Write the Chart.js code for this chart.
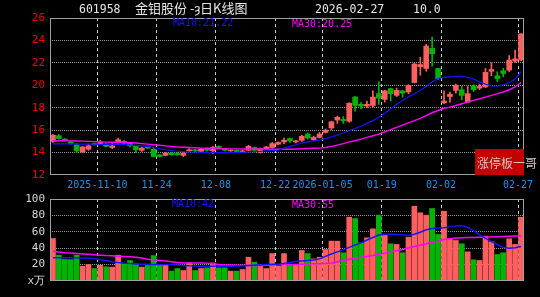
<!DOCTYPE html>
<html>
<head>
<meta charset="utf-8">
<script src="https://cdn.jsdelivr.net/npm/chart.js@4"></script>
<style>
  body { margin: 0; background: #000; width: 540px; height: 297px; overflow: hidden; position: relative; }
  canvas { position: absolute; left: 0; }
  #kChart { top: 0; }
  #volChart { top: 192px; }
  .t { position: absolute; white-space: nowrap; font-family: "DejaVu Sans Mono", monospace; line-height: 12px; }
  .head { color: #e6e6e6; font-size: 11.5px; top: 3px; }
  .cn { font-family: "Noto Sans CJK SC", sans-serif; font-size: 13px; }
  .leg { font-size: 10px; }
  #stamp { position: absolute; left: 475px; top: 149px; width: 49px; height: 26px; background: #c40000; }
  #stampText { position: absolute; left: 477px; top: 156px; font-family: "Noto Sans CJK SC", sans-serif; font-size: 12px; line-height: 14px; color: #dcc4c4; white-space: nowrap; }
</style>
</head>
<body>
<canvas id="kChart" width="540" height="192"></canvas>
<canvas id="volChart" width="540" height="105"></canvas>

<div class="t head" style="left:79px">601958</div>
<div class="t head cn" style="left:135px;top:2px">金钼股份 -ȝ日K线图</div>
<div class="t head" style="left:315px">2026-02-27</div>
<div class="t head" style="left:413px">10.0</div>

<div class="t leg" style="left:173px;top:17px;color:#1414ff">MA10:21.22</div>
<div class="t leg" style="left:292px;top:18px;color:#ff00ff">MA30:20.25</div>
<div class="t leg" style="left:172px;top:198px;color:#1414ff">MA10:42</div>
<div class="t leg" style="left:292px;top:199px;color:#ff00ff">MA30:55</div>

<div id="stamp"></div>
<div id="stampText">涨停板一哥</div>

<script>
// 交易日
const dates = [
  '2025-10-29','2025-10-30','2025-10-31',
  '2025-11-03','2025-11-04','2025-11-05','2025-11-06','2025-11-07',
  '2025-11-10','2025-11-11','2025-11-12','2025-11-13','2025-11-14',
  '2025-11-17','2025-11-18','2025-11-19','2025-11-20','2025-11-21',
  '2025-11-24','2025-11-25','2025-11-26','2025-11-27','2025-11-28',
  '2025-12-01','2025-12-02','2025-12-03','2025-12-04','2025-12-05',
  '2025-12-08','2025-12-09','2025-12-10','2025-12-11','2025-12-12',
  '2025-12-15','2025-12-16','2025-12-17','2025-12-18','2025-12-19',
  '2025-12-22','2025-12-23','2025-12-24','2025-12-25','2025-12-26',
  '2025-12-29','2025-12-30','2025-12-31',
  '2026-01-05','2026-01-06','2026-01-07','2026-01-08','2026-01-09',
  '2026-01-12','2026-01-13','2026-01-14','2026-01-15','2026-01-16',
  '2026-01-19','2026-01-20','2026-01-21','2026-01-22','2026-01-23',
  '2026-01-26','2026-01-27','2026-01-28','2026-01-29','2026-01-30',
  '2026-02-02','2026-02-03','2026-02-04','2026-02-05','2026-02-06',
  '2026-02-09','2026-02-10','2026-02-11','2026-02-12','2026-02-13',
  '2026-02-24','2026-02-25','2026-02-26','2026-02-27'
];

// 横轴刻度
const tickDates = ['2025-11-10','2025-11-24','2025-12-08','2025-12-22','2026-01-05','2026-01-19','2026-02-02','2026-02-27'];
const tickLabels = ['2025-11-10','11-24','12-08','12-22','2026-01-05','01-19','02-02','02-27'];

// K线
const opens = [
  15.0,15.5,15.2,14.95,14.7,14.05,14.3,14.8,14.8,14.75,
  14.45,14.9,15.0,14.85,14.6,14.2,14.55,14.3,13.8,13.75,
  13.95,13.95,13.75,14.15,14.25,14.1,14.35,14.15,14.55,14.3,
  14.15,14.2,14.05,14.2,14.45,14.0,14.35,14.45,14.75,14.95,
  15.25,14.95,15.1,15.65,15.15,15.35,15.8,16.2,16.9,16.95,
  16.8,18.95,18.3,18.15,18.2,19.25,18.75,19.7,19.1,19.5,
  19.4,20.25,21.65,21.5,23.3,21.5,18.45,19.0,19.55,19.6,
  18.5,19.95,19.75,19.85,21.25,20.85,21.3,21.35,22.15,22.25
];
const highs = [
  15.6,15.6,15.25,15.0,14.8,14.55,14.75,14.85,15.1,14.85,
  14.8,15.3,15.1,14.9,14.65,14.5,14.6,14.35,13.85,14.0,
  14.0,14.0,14.0,14.35,14.3,14.35,14.4,14.55,14.6,14.35,
  14.25,14.25,14.2,14.65,14.5,14.4,14.55,14.9,14.95,15.3,
  15.3,15.1,15.55,15.75,15.45,15.8,16.1,16.8,17.25,17.2,
  18.45,19.0,18.45,18.6,19.5,20.3,19.55,19.75,19.75,19.55,
  20.05,21.95,22.5,23.65,24.3,21.5,19.5,19.4,20.1,19.9,
  19.9,20.05,20.1,21.5,22.0,21.2,21.5,22.65,23.15,24.59
];
const lows = [
  14.9,15.2,15.05,14.75,14.0,14.0,14.2,14.65,14.75,14.5,
  14.35,14.85,14.8,14.5,14.0,14.1,14.35,13.6,13.6,13.7,
  13.75,13.75,13.65,14.1,14.05,14.0,14.15,13.9,14.35,14.15,
  14.1,14.05,14.0,14.15,14.0,13.95,14.3,14.4,14.7,14.8,
  14.9,14.85,15.0,15.2,15.05,15.3,15.75,16.05,16.6,16.6,
  16.7,17.7,17.9,18.0,18.05,18.3,18.5,18.6,19.0,18.95,
  19.25,20.2,20.9,21.25,21.7,20.5,18.35,18.5,19.3,18.7,
  18.45,19.45,19.6,19.8,20.85,20.3,20.75,21.2,22.05,22.2
];
const closes = [
  15.55,15.25,15.1,14.8,14.15,14.5,14.6,14.7,14.9,14.55,
  14.6,15.15,14.85,14.6,14.25,14.4,14.4,13.65,13.65,13.95,
  13.8,13.8,13.95,14.25,14.15,14.3,14.2,14.45,14.45,14.2,
  14.22,14.1,14.15,14.55,14.2,14.35,14.5,14.8,14.9,15.1,
  15.05,15.05,15.45,15.3,15.35,15.65,16.0,16.75,17.15,16.85,
  18.4,18.2,18.15,18.3,18.95,18.85,19.5,19.25,19.55,19.3,
  20.0,21.9,21.85,23.5,22.8,20.6,18.6,19.2,20.0,19.1,
  19.25,19.6,19.9,21.15,21.4,20.6,21.05,22.25,22.35,24.59
];
const ma10 = [
  14.78,14.78,14.77,14.77,14.76,14.75,14.75,14.74,14.73,14.73,
  14.72,14.72,14.7,14.68,14.65,14.6,14.55,14.45,14.35,14.25,
  14.18,14.12,14.08,14.05,14.03,14.02,14.02,14.0,14.0,14.0,
  14.0,14.0,14.02,14.05,14.08,14.1,14.15,14.2,14.2,14.4,
  14.55,14.7,14.85,14.95,15.05,15.12,15.25,15.4,15.55,15.75,
  15.95,16.15,16.35,16.6,16.85,17.15,17.5,17.9,18.3,18.65,
  18.95,19.25,19.55,19.9,20.3,20.6,20.7,20.75,20.8,20.8,
  20.72,20.55,20.3,20.1,19.95,19.92,20.05,20.25,20.55,21.22
];
const ma30 = [
  15.05,15.05,15.05,15.04,15.03,15.02,15.0,14.98,14.95,14.93,
  14.92,14.92,14.9,14.88,14.85,14.8,14.75,14.7,14.65,14.6,
  14.55,14.5,14.47,14.45,14.43,14.4,14.38,14.36,14.35,14.34,
  14.33,14.33,14.32,14.32,14.32,14.32,14.31,14.3,14.3,14.29,
  14.3,14.32,14.34,14.36,14.38,14.4,14.45,14.55,14.67,14.8,
  14.95,15.05,15.2,15.35,15.5,15.65,15.85,16.05,16.25,16.45,
  16.65,16.85,17.05,17.3,17.55,17.75,17.95,18.05,18.2,18.35,
  18.5,18.65,18.8,18.95,19.1,19.25,19.4,19.6,19.85,20.25
];

// 成交量(万)
const volumes = [
  51.8,31.5,26.2,26,31.5,18.1,20.1,15.2,19.3,17.3,
  16.9,31.5,21,25,21,16.9,19,31,20,19.3,
  12,15.2,12.8,22.2,12.8,15.2,16,22,16,16,
  12,12,14,29,23,19,15.2,33.5,18,33.5,
  20,20,37.2,33.5,27,29,38.4,48.6,48.6,34.4,
  77.8,76.2,46.6,52.7,63.6,80.3,55.5,45.4,44.6,34.4,
  53.4,91.2,83.2,80.3,88.4,56.7,85.1,51.4,49.4,45.4,
  35.6,25.8,25,54.7,47.8,32.3,34.4,51.4,44.6,77.8
];
const volMa10 = [
  28.5,28.5,28.4,28.3,28.2,28,27.8,27.5,26,25,
  23.5,22.5,21.8,21.2,20.8,20.5,20.3,20.2,20,20,
  19.8,19.5,19,18.5,18.2,18,18,18,18,18,
  18,18.2,18.5,19,19.3,19.6,20,20.3,20.5,21.5,
  22.5,24,24.5,25,25.5,27,30,33,35.5,38,
  41,44,46.5,50,53,56,57,57,56.7,56.5,
  55.5,57,59.5,62.5,64,64.5,65,66,67,67.5,
  65.5,61,56.5,52,48,44.5,41,40,40.5,42
];
const volMa30 = [
  36.3,35.5,34.5,34,33.5,33,32.5,32,31.5,31,
  30.7,30.3,30,29.7,29,28,26.5,25.5,25,24.5,
  23.5,22.5,22,22,22,22,21.8,21,20,19.5,
  19.4,19.3,19.2,19,19,19,19.2,19.5,19.8,20,
  20,20.2,20.5,20.8,21,21,21.2,22,23.5,25,
  26.5,28,29,30,31,32.3,34,35.5,37,38.5,
  40.5,42,43.5,45.4,47,48.5,50.5,51.5,52.5,52.8,
  53,53.2,53.4,53.6,53.8,54,54.2,54.5,54.8,55
];

const upColor = '#ff5f5f';
const downColor = '#00b400';
const candleColors = closes.map((c, i) => c >= opens[i] ? upColor : downColor);
const tickIdx = tickDates.map(d => dates.indexOf(d));

Chart.defaults.font.family = '"DejaVu Sans Mono", monospace';
Chart.defaults.font.size = 10;

// 画外框
const frame = {
  id: 'frame',
  afterDraw(chart) {
    const { ctx, chartArea: a } = chart;
    ctx.save();
    ctx.strokeStyle = '#a0a0a0';
    ctx.lineWidth = 1;
    ctx.strokeRect(Math.round(a.left) + 0.5, Math.round(a.top) + 0.5,
      Math.round(a.right - a.left) - 1, Math.round(a.bottom - a.top) - 1);
    ctx.restore();
  }
};

function xScale(showLabels) {
  return {
    type: 'linear',
    min: 0,
    max: dates.length,
    offset: false,
    afterBuildTicks: s => { s.ticks = tickIdx.map(v => ({ value: v })); },
    afterFit: s => { s.height = showLabels ? 17 : 0; s.paddingLeft = 0; s.paddingRight = 0; },
    grid: { offset: false, color: '#c8c8c8', drawTicks: false },
    border: { display: false, dash: [3, 3] },
    ticks: {
      display: showLabels,
      autoSkip: false,
      maxRotation: 0,
      padding: 4,
      color: '#2090f0',
      callback: v => tickLabels[tickIdx.indexOf(v)]
    }
  };
}

function lineSet(data, color, width) {
  return {
    type: 'line',
    data: data.map((v, i) => ({ x: i + 0.5, y: v })),
    borderColor: color,
    borderWidth: width,
    pointRadius: 0,
    tension: 0,
    order: 0
  };
}

// K线图
new Chart(document.getElementById('kChart'), {
  type: 'bar',
  data: {
    datasets: [
      lineSet(ma10, '#1414ff', 1.2),
      lineSet(ma30, '#ff00ff', 1.4),
      {
        data: dates.map((d, i) => ({ x: i + 0.5, y: [opens[i], closes[i]] })),
        backgroundColor: candleColors,
        barThickness: 5,
        grouped: false,
        order: 1
      },
      {
        data: dates.map((d, i) => ({ x: i + 0.5, y: [lows[i], highs[i]] })),
        backgroundColor: candleColors,
        barThickness: 1,
        grouped: false,
        order: 2
      }
    ]
  },
  options: {
    responsive: false,
    animation: false,
    events: [],
    layout: { padding: { top: 18, right: 16, left: 0, bottom: 0 } },
    plugins: { legend: { display: false }, tooltip: { enabled: false } },
    scales: {
      x: xScale(true),
      y: {
        min: 12,
        max: 26,
        afterFit: s => { s.width = 50; s.paddingTop = 0; s.paddingBottom = 0; },
        grid: {
          color: c => (c.tick.value === 12 || c.tick.value === 26) ? 'transparent' : '#9a9a9a',
          drawTicks: false
        },
        border: { display: false, dash: [1, 1] },
        ticks: { stepSize: 2, color: '#f00000', padding: 5, font: { size: 11 } }
      }
    }
  },
  plugins: [frame]
});

// 成交量
new Chart(document.getElementById('volChart'), {
  type: 'bar',
  data: {
    datasets: [
      lineSet(volMa10, '#1414ff', 1.5),
      lineSet(volMa30, '#ff00ff', 1.5),
      {
        data: volumes.map((v, i) => ({ x: i + 0.5, y: v })),
        backgroundColor: candleColors,
        barThickness: 5,
        grouped: false,
        order: 1
      }
    ]
  },
  options: {
    responsive: false,
    animation: false,
    events: [],
    layout: { padding: { top: 7, right: 16, left: 0, bottom: 16 } },
    plugins: { legend: { display: false }, tooltip: { enabled: false } },
    scales: {
      x: xScale(false),
      y: {
        min: 0,
        max: 100,
        afterFit: s => { s.width = 50; s.paddingTop = 0; s.paddingBottom = 0; },
        grid: {
          color: c => (c.tick.value === 0 || c.tick.value === 100) ? 'transparent' : '#9a9a9a',
          drawTicks: false
        },
        border: { display: false, dash: [1, 1] },
        ticks: {
          stepSize: 20,
          color: '#d8d8d8',
          padding: 5,
          font: { size: 11 },
          callback: v => v === 0 ? 'x万' : v
        }
      }
    }
  },
  plugins: [frame]
});
</script>
</body>
</html>
